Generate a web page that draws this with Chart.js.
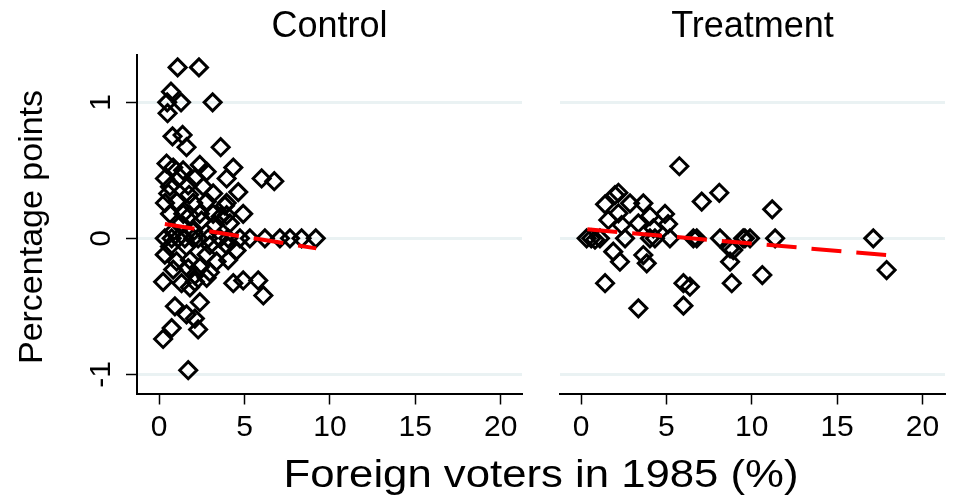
<!DOCTYPE html>
<html>
<head>
<meta charset="utf-8">
<script src="https://cdn.jsdelivr.net/npm/chart.js@4.4.0/dist/chart.umd.min.js"></script>
<style>
  html, body { margin: 0; padding: 0; background: #fff; }
  #wrap { position: relative; width: 962px; height: 497px; }
  #wrap canvas { position: absolute; left: 0; top: 0; }
</style>
</head>
<body>
<div id="wrap">
  <canvas id="controlChart" width="962" height="497"></canvas>
  <canvas id="treatmentChart" width="962" height="497"></canvas>
</div>
<script>
// values
var xTicks = [0, 5, 10, 15, 20];
var yTicks = [-1, 0, 1];
var panelTitles = ['Control', 'Treatment'];

var controlX = [
	1.08, 2.33, 0.69, 1.28, 0.47, 0.49, 3.13, 0.78, 1.37, 1.60, 3.60,
	0.43, 0.82, 2.38, 4.34, 3.95, 6.00, 6.74, 1.40, 2.78, 0.34, 1.21,
	2.09, 1.70, 0.63, 2.58, 3.16, 4.63, 0.53, 1.75, 0.34, 1.02, 1.99,
	2.78, 3.95, 0.63, 1.41, 2.38, 3.16, 3.95, 4.92, 3.85, 3.60, 2.48,
	1.80, 4.14, 1.21, 3.26, 0.82, 1.99,
	0.33, 0.73, 1.10, 1.50, 2.00, 2.28, 2.87, 3.55, 4.04, 4.73, 5.31,
	6.19, 7.07, 7.66, 8.34, 9.17,
	0.63, 1.60, 2.97, 3.95, 0.33, 1.02, 1.80, 2.78, 3.36, 4.04, 4.53,
	0.82, 1.70, 2.38, 2.97, 2.09, 0.23, 1.31, 1.80, 2.09, 2.78, 4.34,
	4.92, 5.80, 6.10, 0.92, 2.38, 1.60, 2.09, 0.73, 2.28, 0.23, 1.70
];
var controlY = [
	1.257, 1.257, 1.078, 1.00, 1.00, 0.92, 1.00, 0.75, 0.76, 0.67, 0.67,
	0.55, 0.52, 0.54, 0.52, 0.44, 0.44, 0.42, 0.50, 0.49, 0.44, 0.45,
	0.44, 0.39, 0.38, 0.38, 0.33, 0.34, 0.33, 0.32, 0.26, 0.27, 0.26,
	0.27, 0.26, 0.18, 0.18, 0.18, 0.18, 0.17, 0.18, 0.24, 0.16, 0.13,
	0.17, 0.11, 0.10, 0.10, 0.05, 0.05,
	0, 0, 0, 0, 0, 0, 0, 0, 0, 0, 0,
	0, 0, 0, 0, 0,
	-0.06, -0.06, -0.05, -0.05, -0.12, -0.17, -0.16, -0.12, -0.17, -0.16, -0.09,
	-0.23, -0.22, -0.21, -0.25, -0.27, -0.32, -0.33, -0.36, -0.32, -0.29, -0.33,
	-0.31, -0.31, -0.42, -0.50, -0.47, -0.56, -0.59, -0.66, -0.67, -0.74, -0.97
];

var treatmentX = [
	0.33, 0.60, 1.11, 2.58, 4.04, 4.33, 5.21, 6.58, 6.78, 8.14, 9.50,
	9.60, 9.90, 11.37, 17.12, 0.82,
	5.76, 8.10, 7.07, 11.20,
	2.19, 1.99, 1.41, 2.87, 3.65, 2.19, 4.04, 4.92, 1.60, 3.36, 5.10,
	2.38, 4.24,
	1.89, 2.28, 3.65, 3.85, 8.73, 8.73, 8.92,
	1.41, 6.00, 6.38, 8.83, 10.62, 17.90,
	3.36, 6.00
];
var treatmentY = [
	0, 0, 0, 0, 0, 0, 0, 0, 0, 0, 0,
	0, 0, 0, 0, -0.01,
	0.53, 0.335, 0.27, 0.213,
	0.335, 0.318, 0.25, 0.257, 0.257, 0.184, 0.164, 0.179, 0.135, 0.11, 0.105,
	0.098, 0.074,
	-0.098, -0.172, -0.123, -0.184, -0.074, -0.172, -0.086,
	-0.33, -0.33, -0.356, -0.33, -0.27, -0.233,
	-0.515, -0.495
];

// fitted lines (end points)
var controlFitX = [0.33, 9.2];
var controlFitY = [0.105, -0.074];
var treatmentFitX = [0.37, 17.87];
var treatmentFitY = [0.066, -0.123];

var FONT = '"Liberation Sans", Arial, Helvetica, sans-serif';

function toPoints(xs, ys) {
	return xs.map(function(x, i) { return { x: x, y: ys[i] }; });
}

// titles, rotated y tick labels and axis titles, drawn like Stata does
var stataText = {
	id: 'stataText',
	afterDraw: function(chart, args, opts) {
		var ctx = chart.ctx;
		var area = chart.chartArea;
		ctx.save();
		ctx.fillStyle = '#000';
		ctx.textAlign = 'center';
		ctx.textBaseline = 'alphabetic';

		ctx.font = '36px ' + FONT;
		ctx.fillText(opts.title, (area.left + area.right) / 2, 37);

		if (opts.leftAxis) {
			var yScale = chart.scales.y;
			ctx.font = '30px ' + FONT;
			yTicks.forEach(function(v) {
				ctx.save();
				ctx.translate(110, yScale.getPixelForValue(v));
				ctx.rotate(-Math.PI / 2);
				ctx.fillText(String(v), 0, 0);
				ctx.restore();
			});

			ctx.save();
			ctx.translate(42, 227);
			ctx.rotate(-Math.PI / 2);
			ctx.font = '34px ' + FONT;
			ctx.fillText('Percentage points', 0, 0);
			ctx.restore();

			// x title is a bit wider than the font, stretch it
			ctx.save();
			ctx.translate(541, 487);
			ctx.scale(1.15, 1);
			ctx.font = '38px ' + FONT;
			ctx.fillText('Foreign voters in 1985 (%)', 0, 0);
			ctx.restore();
		}
		ctx.restore();
	}
};

function makePanel(canvasId, title, xs, ys, fitX, fitY, leftAxis, xMin, xMax, yWidth, padRight) {
	var ctx = document.getElementById(canvasId).getContext('2d');
	return new Chart(ctx, {
		type: 'scatter',
		data: {
			datasets: [{
				type: 'line',
				data: toPoints(fitX, fitY),
				borderColor: '#ff0000',
				borderWidth: 4,
				borderDash: [30, 15],
				pointRadius: 0,
				fill: false,
				order: 0
			}, {
				data: toPoints(xs, ys),
				pointStyle: 'rectRot',
				pointRadius: 8.5,
				borderWidth: 3,
				borderColor: '#000',
				backgroundColor: 'rgba(0,0,0,0)',
				order: 1
			}]
		},
		options: {
			responsive: false,
			animation: false,
			devicePixelRatio: 1,
			events: [],
			layout: {
				padding: { left: 0, right: padRight, top: 55, bottom: 0 }
			},
			plugins: {
				legend: { display: false },
				tooltip: { enabled: false },
				stataText: { title: title, leftAxis: leftAxis }
			},
			scales: {
				x: {
					type: 'linear',
					min: xMin,
					max: xMax,
					afterBuildTicks: function(scale) {
						scale.ticks = xTicks.map(function(v) { return { value: v }; });
					},
					afterFit: function(scale) { scale.height = 103.5; },
					grid: {
						drawOnChartArea: false,
						drawTicks: true,
						tickLength: 11,
						tickColor: '#000',
						tickWidth: 1.5
					},
					border: { color: '#000', width: 2 },
					ticks: {
						color: '#000',
						font: { family: FONT, size: 30 },
						padding: 5,
						maxRotation: 0,
						autoSkip: false
					}
				},
				y: {
					type: 'linear',
					min: -1.141,
					max: 1.348,
					afterBuildTicks: function(scale) {
						scale.ticks = yTicks.map(function(v) { return { value: v }; });
					},
					afterFit: function(scale) { scale.width = yWidth; },
					grid: {
						color: '#eaf2f3',
						lineWidth: 3,
						drawTicks: leftAxis,
						tickLength: 11,
						tickColor: '#000',
						tickWidth: 1.5
					},
					border: { display: leftAxis, color: '#000', width: 2 },
					ticks: { display: false }
				}
			}
		},
		plugins: [stataText]
	});
}

makePanel('controlChart', panelTitles[0], controlX, controlY, controlFitX, controlFitY,
	true, -1.3, 21.25, 137, 440);
makePanel('treatmentChart', panelTitles[1], treatmentX, treatmentY, treatmentFitX, treatmentFitY,
	false, -1.23, 21.32, 560, 17);
</script>
</body>
</html>
